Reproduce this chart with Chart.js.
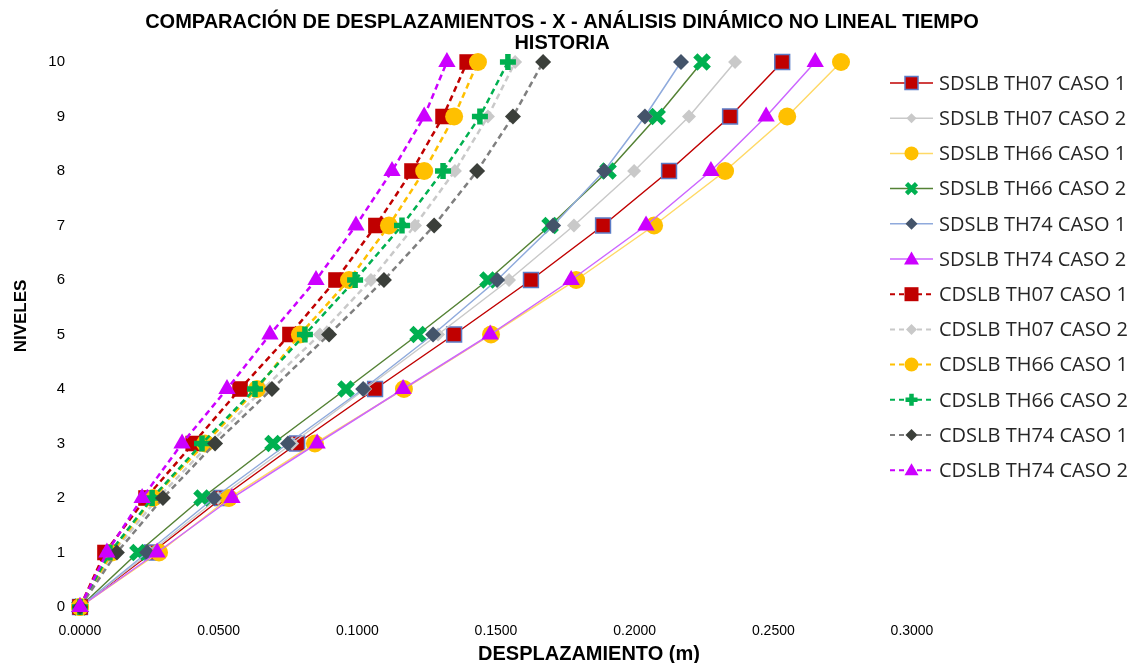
<!DOCTYPE html>
<html>
<head>
<meta charset="utf-8">
<script src="https://cdn.jsdelivr.net/npm/chart.js@4/dist/chart.umd.min.js"></script>
<style>
html,body{margin:0;padding:0;background:#fff;}
#wrap{width:1132px;height:663px;position:relative;}
</style>
</head>
<body>
<div id="wrap"><canvas id="c" width="1132" height="663"></canvas></div>
<script>
const levels = [0,1,2,3,4,5,6,7,8,9,10];
const seriesNames = [
  "SDSLB TH07 CASO 1","SDSLB TH07 CASO 2","SDSLB TH66 CASO 1","SDSLB TH66 CASO 2",
  "SDSLB TH74 CASO 1","SDSLB TH74 CASO 2","CDSLB TH07 CASO 1","CDSLB TH07 CASO 2",
  "CDSLB TH66 CASO 1","CDSLB TH66 CASO 2","CDSLB TH74 CASO 1","CDSLB TH74 CASO 2"
];
const sdTh07Caso1 = [0,0.0260,0.0512,0.0783,0.1064,0.1349,0.1626,0.1886,0.2124,0.2344,0.2532];
const sdTh07Caso2 = [0,0.0252,0.0498,0.0765,0.1028,0.1291,0.1547,0.1781,0.1998,0.2196,0.2362];
const sdTh66Caso1 = [0,0.0285,0.0537,0.0847,0.1168,0.1482,0.1789,0.2070,0.2326,0.2550,0.2744];
const sdTh66Caso2 = [0,0.0209,0.0440,0.0696,0.0959,0.1219,0.1471,0.1695,0.1904,0.2081,0.2243];
const sdTh74Caso1 = [0,0.0242,0.0483,0.0750,0.1021,0.1273,0.1504,0.1706,0.1890,0.2037,0.2167];
const sdTh74Caso2 = [0,0.0278,0.0548,0.0855,0.1165,0.1479,0.1771,0.2041,0.2275,0.2474,0.2651];
const cdTh07Caso1 = [0,0.0090,0.0238,0.0408,0.0577,0.0757,0.0923,0.1067,0.1197,0.1309,0.1396];
const cdTh07Caso2 = [0,0.0119,0.0281,0.0469,0.0660,0.0865,0.1049,0.1208,0.1352,0.1471,0.1569];
const cdTh66Caso1 = [0,0.0115,0.0263,0.0451,0.0638,0.0793,0.0970,0.1114,0.1241,0.1349,0.1435];
const cdTh66Caso2 = [0,0.0108,0.0260,0.0440,0.0631,0.0811,0.0992,0.1161,0.1309,0.1442,0.1543];
const cdTh74Caso1 = [0,0.0133,0.0299,0.0487,0.0692,0.0898,0.1096,0.1277,0.1432,0.1561,0.1670];
const cdTh74Caso2 = [0,0.0097,0.0224,0.0368,0.0530,0.0685,0.0851,0.0995,0.1125,0.1241,0.1323];
const xTicks = [0,0.05,0.10,0.15,0.20,0.25,0.30];
const yTicks = [0,1,2,3,4,5,6,7,8,9,10];
const titleLines = ["COMPARACIÓN DE DESPLAZAMIENTOS - X - ANÁLISIS DINÁMICO NO LINEAL TIEMPO","HISTORIA"];
const xTitle = "DESPLAZAMIENTO (m)";
const yTitle = "NIVELES";

const values = [sdTh07Caso1,sdTh07Caso2,sdTh66Caso1,sdTh66Caso2,sdTh74Caso1,sdTh74Caso2,
                cdTh07Caso1,cdTh07Caso2,cdTh66Caso1,cdTh66Caso2,cdTh74Caso1,cdTh74Caso2];

const styles = [
  {line:'#C00000', fill:'#C00000', border:'#5B7BC6', bw:1.5, ps:'rect', r:10.5, dash:[], lg:6.5},
  {line:'#C9C9C9', fill:'#C9C9C9', border:'#C9C9C9', bw:0, ps:'rectRot', r:7, dash:[], lg:5},
  {line:'#FFD966', fill:'#FFC000', border:'#FFC000', bw:0, ps:'circle', r:9, dash:[], lg:7},
  {line:'#548235', fill:'#00B050', border:'#00B050', bw:6, ps:'crossRot', r:9.5, dash:[], lg:5},
  {line:'#8FAADC', fill:'#44546A', border:'#44546A', bw:0, ps:'rectRot', r:8, dash:[], lg:6},
  {line:'#CC66FF', fill:'#CC00FF', border:'#CC00FF', bw:0, ps:'triangle', r:10, dash:[], lg:7.5},
  {line:'#C00000', fill:'#C00000', border:'#C00000', bw:0, ps:'rect', r:11, dash:[6,4], lg:7},
  {line:'#C9C9C9', fill:'#C9C9C9', border:'#C9C9C9', bw:0, ps:'rectRot', r:7, dash:[6,4], lg:5.5},
  {line:'#FFC000', fill:'#FFC000', border:'#FFC000', bw:0, ps:'circle', r:9, dash:[6,4], lg:7},
  {line:'#00B050', fill:'#00B050', border:'#00B050', bw:5.5, ps:'cross', r:8, dash:[6,4], lg:6},
  {line:'#7F7F7F', fill:'#3B3F3A', border:'#3B3F3A', bw:0, ps:'rectRot', r:8, dash:[6,4], lg:6},
  {line:'#CC00FF', fill:'#CC00FF', border:'#CC00FF', bw:0, ps:'triangle', r:10, dash:[6,4], lg:7}
];

const datasets = seriesNames.map((name,i)=>{
  const s = styles[i];
  const isCD = i >= 6;
  const cross = s.ps === 'cross' || s.ps === 'crossRot';
  return {
    label: name,
    data: levels.map((lv,k)=>({x: values[i][k], y: lv})),
    showLine: true,
    clip: false,
    borderColor: s.line,
    borderWidth: isCD ? 2.5 : 1.5,
    borderDash: s.dash,
    pointStyle: s.ps,
    pointRadius: s.r,
    pointHoverRadius: s.r,
    pointBackgroundColor: s.fill,
    pointBorderColor: cross ? s.fill : s.border,
    pointBorderWidth: s.bw,
    order: -i,
    tension: 0
  };
});

const FONT = "'Liberation Sans',Arial,sans-serif";

function drawMarker(ctx, ps, x, y, r, fill, stroke, bw){
  ctx.save();
  ctx.fillStyle = fill;
  ctx.strokeStyle = stroke;
  ctx.beginPath();
  if (ps === 'rect'){
    ctx.rect(x-r, y-r, 2*r, 2*r);
    ctx.fill();
    if (bw > 0){ ctx.lineWidth = bw; ctx.stroke(); }
  } else if (ps === 'rectRot'){
    ctx.moveTo(x, y-r); ctx.lineTo(x+r, y); ctx.lineTo(x, y+r); ctx.lineTo(x-r, y); ctx.closePath();
    ctx.fill();
  } else if (ps === 'circle'){
    ctx.arc(x, y, r, 0, Math.PI*2);
    ctx.fill();
  } else if (ps === 'triangle'){
    const H = r*Math.sqrt(3);
    ctx.moveTo(x, y-H*0.58); ctx.lineTo(x+r, y+H*0.42); ctx.lineTo(x-r, y+H*0.42); ctx.closePath();
    ctx.fill();
  } else if (ps === 'crossRot'){
    ctx.lineWidth = bw; ctx.lineCap = 'butt';
    ctx.moveTo(x-r, y-r); ctx.lineTo(x+r, y+r);
    ctx.moveTo(x+r, y-r); ctx.lineTo(x-r, y+r);
    ctx.stroke();
  } else if (ps === 'cross'){
    ctx.lineWidth = bw; ctx.lineCap = 'butt';
    ctx.moveTo(x-r, y); ctx.lineTo(x+r, y);
    ctx.moveTo(x, y-r); ctx.lineTo(x, y+r);
    ctx.stroke();
  }
  ctx.restore();
}

const textPlugin = {
  id: 'texts',
  afterDraw(chart){
    const ctx = chart.ctx;
    ctx.save();
    ctx.fillStyle = '#000';
    ctx.textAlign = 'center';
    ctx.textBaseline = 'middle';
    ctx.font = "bold 20px " + FONT;
    ctx.fillText(titleLines[0], 562, 22);
    ctx.fillText(titleLines[1], 562, 43);
    ctx.font = "bold 20px " + FONT;
    ctx.fillText(xTitle, 589, 654);
    ctx.font = "bold 17px " + FONT;
    ctx.translate(21, 316);
    ctx.rotate(-Math.PI/2);
    ctx.fillText(yTitle, 0, 0);
    ctx.restore();

    // legend
    ctx.save();
    const x0 = 890, x1 = 933, xm = 911.5, ty = 83, step = 35.2;
    chart.data.datasets.forEach((ds,i)=>{
      const s = styles[i];
      const y = ty + i*step;
      ctx.save();
      ctx.strokeStyle = ds.borderColor;
      ctx.lineWidth = i>=6 ? 2 : 1.5;
      ctx.setLineDash(i>=6 ? [5,4] : []);
      ctx.beginPath();
      ctx.moveTo(x0, y); ctx.lineTo(x1, y);
      ctx.stroke();
      ctx.restore();
      const lbw = (s.ps==='crossRot' || s.ps==='cross') ? 4.5 : s.bw;
      drawMarker(ctx, s.ps, xm, y, s.lg, s.fill, s.ps==='rect' && s.bw>0 ? s.border : s.fill, lbw);
      ctx.fillStyle = '#262626';
      ctx.font = "20px 'Open Sans', 'Noto Sans', sans-serif";
      ctx.textAlign = 'left';
      ctx.textBaseline = 'middle';
      ctx.fillText(ds.label, 939, y+1);
    });
    ctx.restore();
  }
};

new Chart(document.getElementById('c'), {
  type: 'scatter',
  data: { datasets },
  options: {
    responsive: false,
    animation: false,
    events: [],
    layout: { padding: { left: 0, right: 220, top: 62, bottom: 0 } },
    plugins: { legend: { display: false }, title: { display: false }, tooltip: { enabled: false } },
    scales: {
      x: {
        type: 'linear', min: 0, max: 0.3,
        afterBuildTicks(scale){ scale.ticks = xTicks.map(v=>({value:v})); },
        afterFit(scale){ scale.height = 56; },
        grid: { display: false, drawTicks: false },
        border: { display: false },
        ticks: { padding: 16, color: '#000', font: { family: FONT, size: 14 }, maxRotation: 0,
                 callback: v => Number(v).toFixed(4) }
      },
      y: {
        type: 'linear', min: 0, max: 10,
        afterBuildTicks(scale){ scale.ticks = yTicks.map(v=>({value:v})); },
        afterFit(scale){ scale.width = 80; },
        grid: { display: false, drawTicks: false },
        border: { display: false },
        ticks: { padding: 15, color: '#000', font: { family: FONT, size: 15 }, callback: v => String(v) }
      }
    }
  },
  plugins: [textPlugin]
});
</script>
</body>
</html>
